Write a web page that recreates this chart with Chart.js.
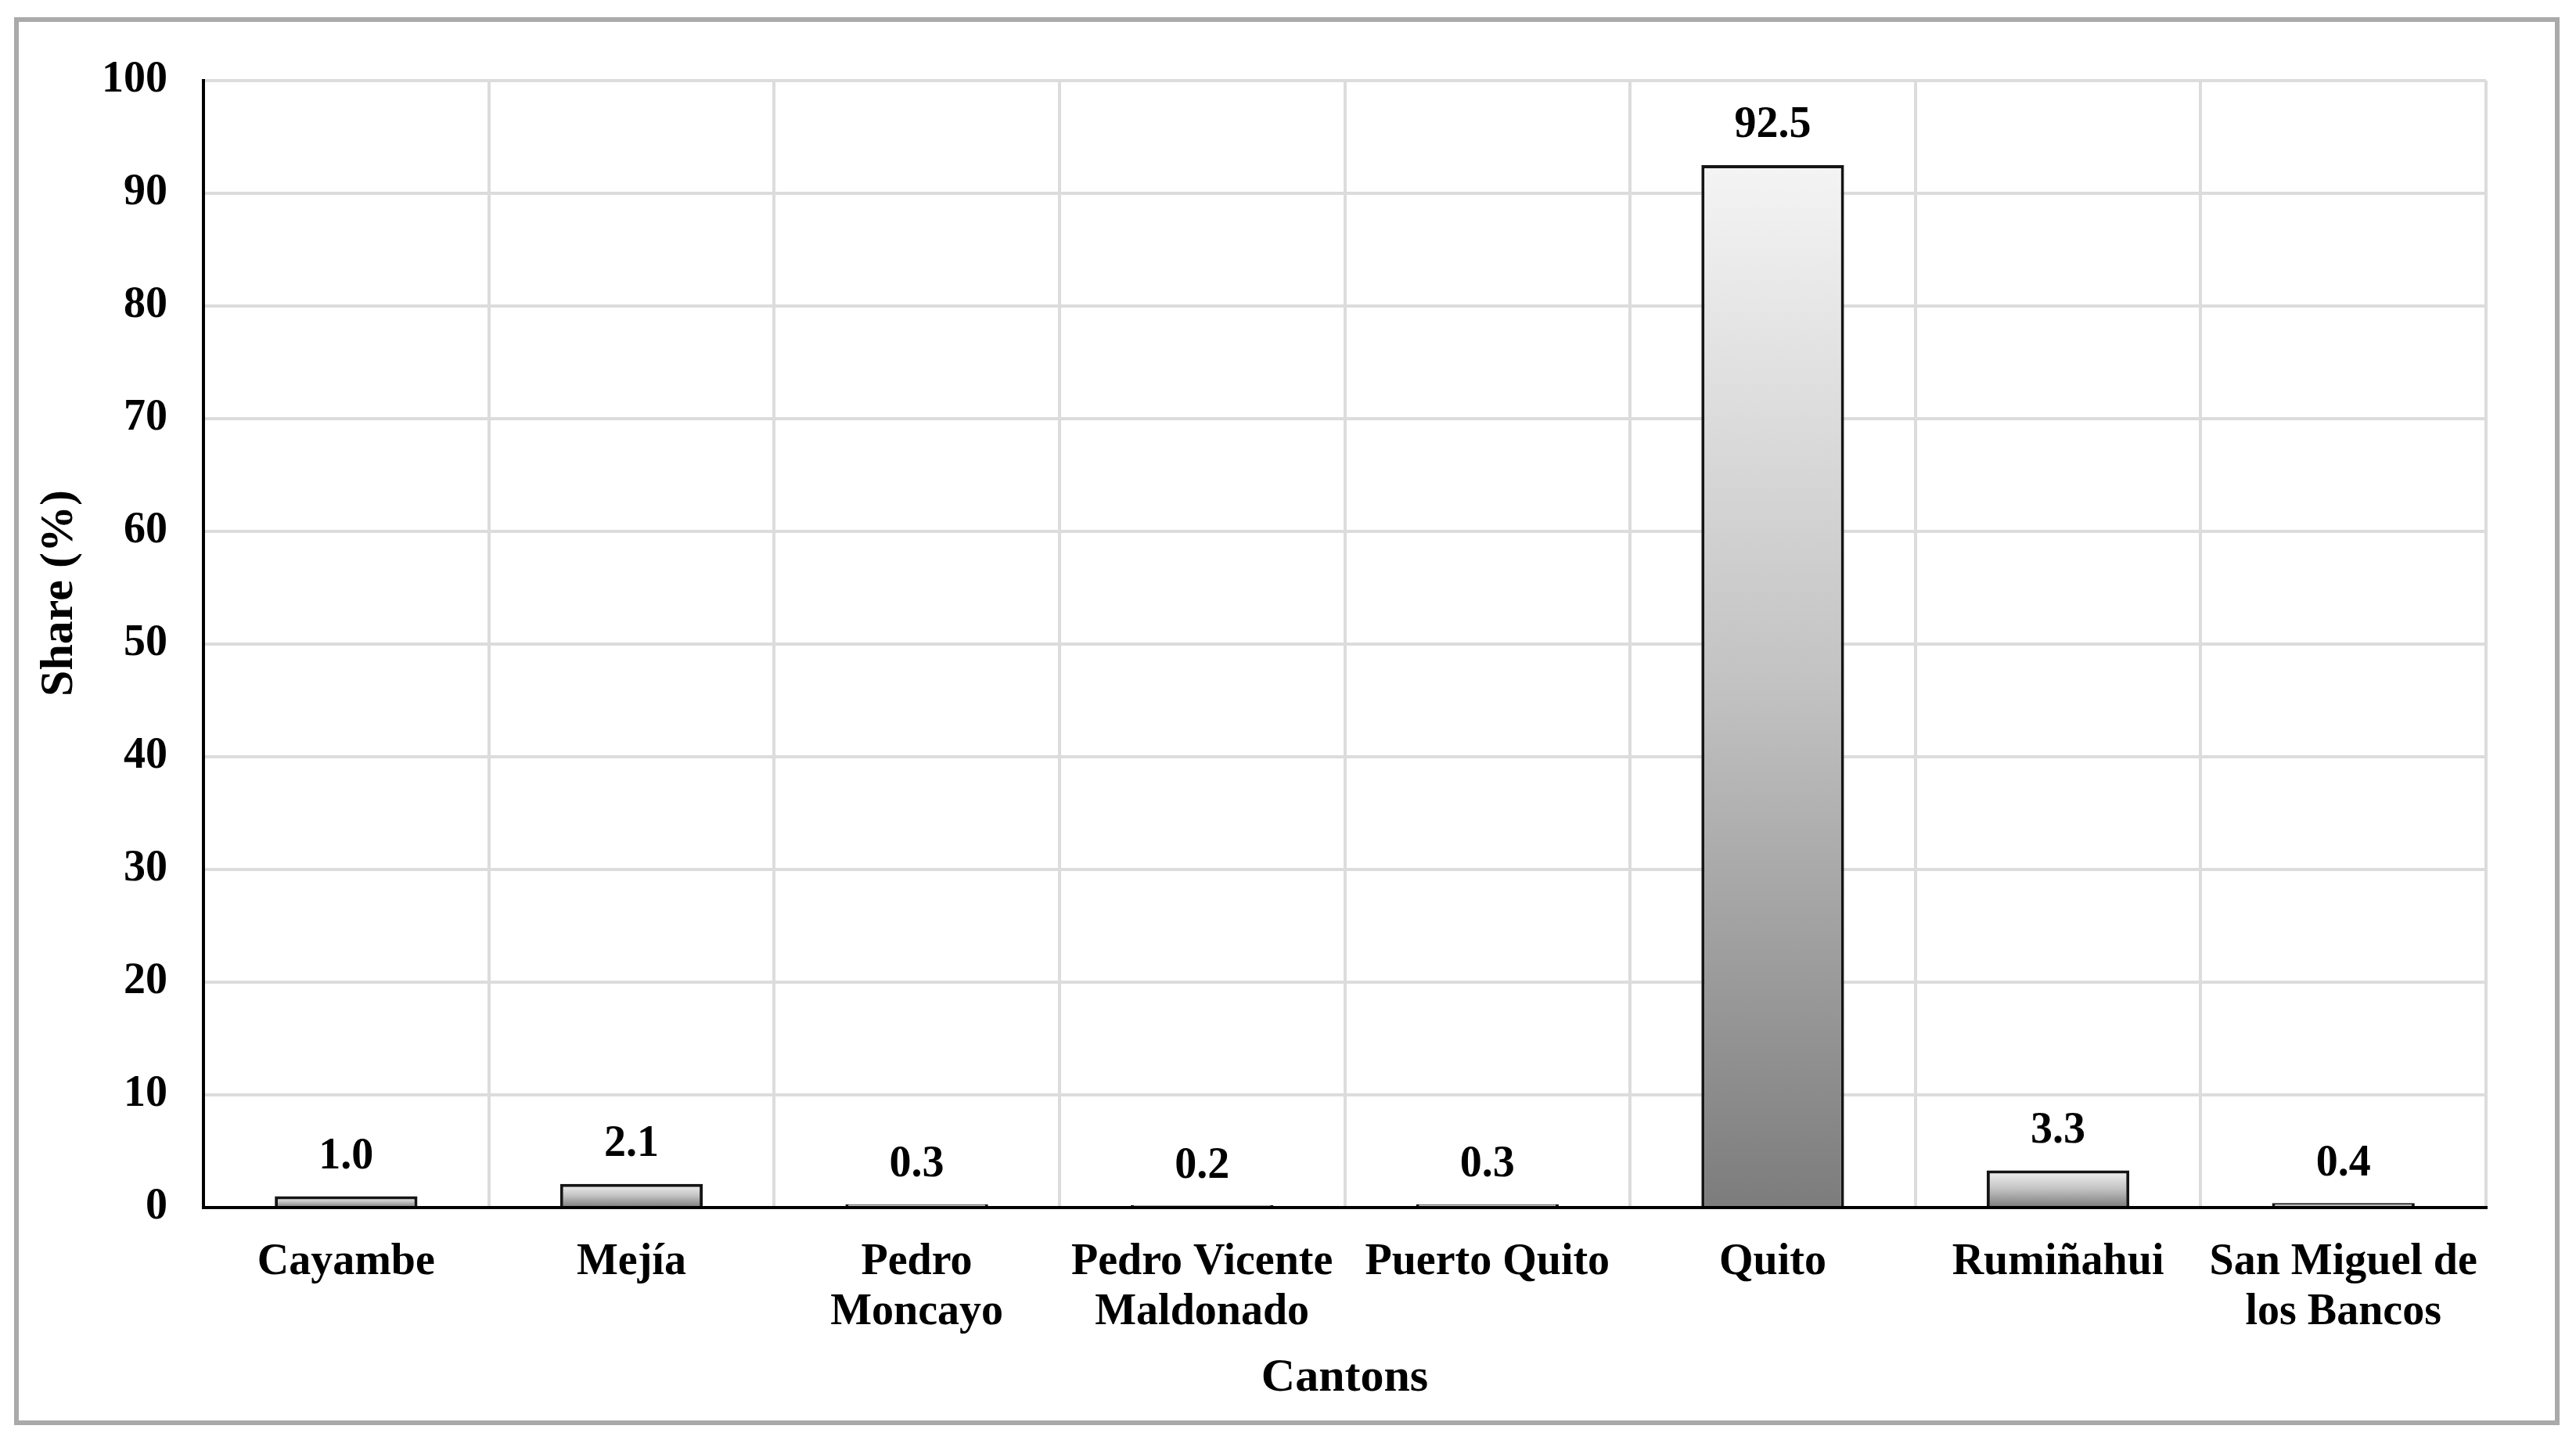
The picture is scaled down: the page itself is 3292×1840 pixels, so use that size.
<!DOCTYPE html>
<html>
<head>
<meta charset="utf-8">
<script src="https://cdn.jsdelivr.net/npm/chart.js@4"></script>
<style>
  body { margin: 0; background: #fff; }
  #wrap { position: relative; width: 3292px; height: 1840px; }
  #frame { position: absolute; left: 18px; top: 22px; width: 3241px; height: 1787px; border: 6px solid #aaaaaa; pointer-events: none; }
</style>
</head>
<body>
<div id="wrap">
  <canvas id="chart" width="3292" height="1840"></canvas>
  <div id="frame"></div>
</div>
<script>
var cantons = [['Cayambe'], ['Mejía'], ['Pedro', 'Moncayo'], ['Pedro Vicente', 'Maldonado'], ['Puerto Quito'], ['Quito'], ['Rumiñahui'], ['San Miguel de', 'los Bancos']]
var share = [1.0, 2.1, 0.3, 0.2, 0.3, 92.5, 3.3, 0.4]
var yTicks = [0, 10, 20, 30, 40, 50, 60, 70, 80, 90, 100]

var fuente = 'Liberation Serif, Times New Roman, serif'

// gradiente por barra: claro arriba, gris abajo
function relleno(c) {
  var chart = c.chart
  if (!chart.chartArea || c.raw == null) return '#c0c0c0'
  var y = chart.scales.y
  var top = y.getPixelForValue(c.raw)
  var base = y.getPixelForValue(0)
  if (base - top < 1) return '#808080'
  var g = chart.ctx.createLinearGradient(0, top, 0, base)
  g.addColorStop(0, '#f4f4f4')
  g.addColorStop(0.5, '#c2c2c2')
  g.addColorStop(1, '#7c7c7c')
  return g
}

var etiquetas = {
  id: 'etiquetas',
  afterDatasetsDraw: function(chart) {
    var ctx = chart.ctx
    var meta = chart.getDatasetMeta(0)
    ctx.save()
    ctx.font = 'bold 56px ' + fuente
    ctx.fillStyle = '#000'
    ctx.textAlign = 'center'
    ctx.textBaseline = 'middle'
    meta.data.forEach(function(bar, i) {
      ctx.fillText(share[i].toFixed(1), bar.x, bar.y - 50)
    })
    // titulo del eje y (un poco por encima del centro, como el original)
    ctx.translate(76, 758)
    ctx.rotate(-Math.PI / 2)
    ctx.font = 'bold 60px ' + fuente
    ctx.fillText('Share (%)', 0, 0)
    ctx.restore()
  }
}

var grafico = new Chart(document.getElementById('chart'), {
  type: 'bar',
  data: {
    labels: cantons,
    datasets: [{
      data: share,
      backgroundColor: relleno,
      borderColor: '#151515',
      borderWidth: 4,
      barPercentage: 0.5,
      categoryPercentage: 1.0
    }]
  },
  plugins: [etiquetas],
  options: {
    responsive: false,
    animation: false,
    devicePixelRatio: 1,
    layout: { padding: { left: 30, top: 103, right: 115, bottom: 40 } },
    plugins: { legend: { display: false }, tooltip: { enabled: false } },
    scales: {
      x: {
        grid: { color: '#dcdcdc', lineWidth: 4, drawTicks: false, offset: true },
        border: { color: '#000', width: 4 },
        ticks: {
          color: '#000', padding: 38, maxRotation: 0, autoSkip: false,
          font: { family: fuente, size: 56, weight: 'bold', lineHeight: 1.15 }
        },
        title: {
          display: true, text: 'Cantons', color: '#000',
          font: { family: fuente, size: 60, weight: 'bold', lineHeight: 1.2 },
          padding: { top: 0, bottom: 3 }
        },
        afterFit: function(s) { s.height = 257 }
      },
      y: {
        min: 0, max: 100,
        afterBuildTicks: function(s) { s.ticks = yTicks.map(function(v) { return { value: v } }) },
        grid: { color: '#dcdcdc', lineWidth: 4, drawTicks: false },
        border: { color: '#000', width: 4 },
        ticks: {
          color: '#000', padding: 46,
          font: { family: fuente, size: 56, weight: 'bold' }
        },
        afterFit: function(s) { s.width = 230 }
      }
    }
  }
})
</script>
</body>
</html>
